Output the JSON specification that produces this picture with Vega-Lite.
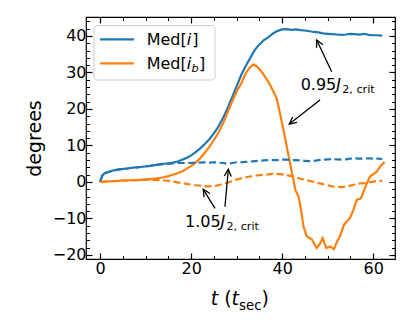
{
"$schema": "https://vega.github.io/schema/vega-lite/v6.json",
"width": 309, "height": 242,
"autosize": {"type": "none"},
"padding": {"left": 86, "top": 17, "right": 20, "bottom": 73},
"background": "white",
"config": {
 "view": {"stroke": "black", "strokeWidth": 1.2},
 "font": "DejaVu Sans",
 "axis": {"domain": false, "grid": false, "tickColor": "black", "tickWidth": 1.2, "labelFont": "DejaVu Sans", "labelFontSize": 16, "labelColor": "black", "labelOverlap": false, "titleFont": "DejaVu Sans", "titleFontSize": 19, "titleFontWeight": "normal", "titleColor": "black"}
},
"datasets": {
 "runs": [
  {"t":0,"deg":0,"series":"Med[i]","J2":"0.95"},{"t":0.5,"deg":1.8,"series":"Med[i]","J2":"0.95"},{"t":1,"deg":2.4,"series":"Med[i]","J2":"0.95"},{"t":2,"deg":2.8,"series":"Med[i]","J2":"0.95"},{"t":3,"deg":3.2,"series":"Med[i]","J2":"0.95"},{"t":4,"deg":3.4,"series":"Med[i]","J2":"0.95"},{"t":5,"deg":3.6,"series":"Med[i]","J2":"0.95"},{"t":6,"deg":3.7,"series":"Med[i]","J2":"0.95"},{"t":7,"deg":3.9,"series":"Med[i]","J2":"0.95"},{"t":8,"deg":4.0,"series":"Med[i]","J2":"0.95"},{"t":9,"deg":4.1,"series":"Med[i]","J2":"0.95"},{"t":10,"deg":4.3,"series":"Med[i]","J2":"0.95"},{"t":11,"deg":4.4,"series":"Med[i]","J2":"0.95"},{"t":12,"deg":4.6,"series":"Med[i]","J2":"0.95"},{"t":13,"deg":4.8,"series":"Med[i]","J2":"0.95"},{"t":14,"deg":5.0,"series":"Med[i]","J2":"0.95"},{"t":15,"deg":5.1,"series":"Med[i]","J2":"0.95"},{"t":16,"deg":5.3,"series":"Med[i]","J2":"0.95"},{"t":17,"deg":5.6,"series":"Med[i]","J2":"0.95"},{"t":18,"deg":6.1,"series":"Med[i]","J2":"0.95"},{"t":19,"deg":6.6,"series":"Med[i]","J2":"0.95"},{"t":20,"deg":7.3,"series":"Med[i]","J2":"0.95"},{"t":21,"deg":8.2,"series":"Med[i]","J2":"0.95"},{"t":22,"deg":9.2,"series":"Med[i]","J2":"0.95"},{"t":23,"deg":10.4,"series":"Med[i]","J2":"0.95"},{"t":24,"deg":11.7,"series":"Med[i]","J2":"0.95"},{"t":25,"deg":13.3,"series":"Med[i]","J2":"0.95"},{"t":26,"deg":15.2,"series":"Med[i]","J2":"0.95"},{"t":27,"deg":17.5,"series":"Med[i]","J2":"0.95"},{"t":28,"deg":20.2,"series":"Med[i]","J2":"0.95"},{"t":29,"deg":23.2,"series":"Med[i]","J2":"0.95"},{"t":30,"deg":26.2,"series":"Med[i]","J2":"0.95"},{"t":31,"deg":29.3,"series":"Med[i]","J2":"0.95"},{"t":32,"deg":31.8,"series":"Med[i]","J2":"0.95"},{"t":33,"deg":34.0,"series":"Med[i]","J2":"0.95"},{"t":34,"deg":36.2,"series":"Med[i]","J2":"0.95"},{"t":35,"deg":37.7,"series":"Med[i]","J2":"0.95"},{"t":36,"deg":38.9,"series":"Med[i]","J2":"0.95"},{"t":37,"deg":39.7,"series":"Med[i]","J2":"0.95"},{"t":38,"deg":40.7,"series":"Med[i]","J2":"0.95"},{"t":39,"deg":41.4,"series":"Med[i]","J2":"0.95"},{"t":40,"deg":41.8,"series":"Med[i]","J2":"0.95"},{"t":41,"deg":41.9,"series":"Med[i]","J2":"0.95"},{"t":42,"deg":41.7,"series":"Med[i]","J2":"0.95"},{"t":43,"deg":41.8,"series":"Med[i]","J2":"0.95"},{"t":44,"deg":41.6,"series":"Med[i]","J2":"0.95"},{"t":45,"deg":41.5,"series":"Med[i]","J2":"0.95"},{"t":46,"deg":41.3,"series":"Med[i]","J2":"0.95"},{"t":47,"deg":41.1,"series":"Med[i]","J2":"0.95"},{"t":48,"deg":41.0,"series":"Med[i]","J2":"0.95"},{"t":49,"deg":40.7,"series":"Med[i]","J2":"0.95"},{"t":50,"deg":40.6,"series":"Med[i]","J2":"0.95"},{"t":51,"deg":40.5,"series":"Med[i]","J2":"0.95"},{"t":52,"deg":40.4,"series":"Med[i]","J2":"0.95"},{"t":53,"deg":40.3,"series":"Med[i]","J2":"0.95"},{"t":54,"deg":40.4,"series":"Med[i]","J2":"0.95"},{"t":55,"deg":40.6,"series":"Med[i]","J2":"0.95"},{"t":56,"deg":40.5,"series":"Med[i]","J2":"0.95"},{"t":57,"deg":40.4,"series":"Med[i]","J2":"0.95"},{"t":58,"deg":40.6,"series":"Med[i]","J2":"0.95"},{"t":59,"deg":40.3,"series":"Med[i]","J2":"0.95"},{"t":60,"deg":40.2,"series":"Med[i]","J2":"0.95"},{"t":61,"deg":40.2,"series":"Med[i]","J2":"0.95"},{"t":62,"deg":40.1,"series":"Med[i]","J2":"0.95"},
  {"t":0,"deg":0,"series":"Med[i_b]","J2":"0.95"},{"t":1,"deg":0.1,"series":"Med[i_b]","J2":"0.95"},{"t":2,"deg":0.2,"series":"Med[i_b]","J2":"0.95"},{"t":3,"deg":0.2,"series":"Med[i_b]","J2":"0.95"},{"t":4,"deg":0.3,"series":"Med[i_b]","J2":"0.95"},{"t":5,"deg":0.4,"series":"Med[i_b]","J2":"0.95"},{"t":6,"deg":0.4,"series":"Med[i_b]","J2":"0.95"},{"t":7,"deg":0.5,"series":"Med[i_b]","J2":"0.95"},{"t":8,"deg":0.5,"series":"Med[i_b]","J2":"0.95"},{"t":9,"deg":0.6,"series":"Med[i_b]","J2":"0.95"},{"t":10,"deg":0.7,"series":"Med[i_b]","J2":"0.95"},{"t":11,"deg":0.8,"series":"Med[i_b]","J2":"0.95"},{"t":12,"deg":0.9,"series":"Med[i_b]","J2":"0.95"},{"t":13,"deg":1.1,"series":"Med[i_b]","J2":"0.95"},{"t":14,"deg":1.3,"series":"Med[i_b]","J2":"0.95"},{"t":15,"deg":1.6,"series":"Med[i_b]","J2":"0.95"},{"t":16,"deg":2.0,"series":"Med[i_b]","J2":"0.95"},{"t":17,"deg":2.4,"series":"Med[i_b]","J2":"0.95"},{"t":18,"deg":2.9,"series":"Med[i_b]","J2":"0.95"},{"t":19,"deg":3.6,"series":"Med[i_b]","J2":"0.95"},{"t":20,"deg":4.4,"series":"Med[i_b]","J2":"0.95"},{"t":21,"deg":5.3,"series":"Med[i_b]","J2":"0.95"},{"t":22,"deg":6.5,"series":"Med[i_b]","J2":"0.95"},{"t":23,"deg":8.0,"series":"Med[i_b]","J2":"0.95"},{"t":24,"deg":9.6,"series":"Med[i_b]","J2":"0.95"},{"t":25,"deg":11.5,"series":"Med[i_b]","J2":"0.95"},{"t":26,"deg":13.5,"series":"Med[i_b]","J2":"0.95"},{"t":27,"deg":16.0,"series":"Med[i_b]","J2":"0.95"},{"t":28,"deg":19.0,"series":"Med[i_b]","J2":"0.95"},{"t":29,"deg":22.0,"series":"Med[i_b]","J2":"0.95"},{"t":30,"deg":24.8,"series":"Med[i_b]","J2":"0.95"},{"t":31,"deg":27.0,"series":"Med[i_b]","J2":"0.95"},{"t":32,"deg":29.8,"series":"Med[i_b]","J2":"0.95"},{"t":33,"deg":31.5,"series":"Med[i_b]","J2":"0.95"},{"t":33.7,"deg":32.2,"series":"Med[i_b]","J2":"0.95"},{"t":34.5,"deg":31.6,"series":"Med[i_b]","J2":"0.95"},{"t":35.2,"deg":30.6,"series":"Med[i_b]","J2":"0.95"},{"t":36,"deg":29.3,"series":"Med[i_b]","J2":"0.95"},{"t":37,"deg":27.4,"series":"Med[i_b]","J2":"0.95"},{"t":38,"deg":25.0,"series":"Med[i_b]","J2":"0.95"},{"t":38.8,"deg":22.9,"series":"Med[i_b]","J2":"0.95"},{"t":39.5,"deg":19.0,"series":"Med[i_b]","J2":"0.95"},{"t":40.3,"deg":14.2,"series":"Med[i_b]","J2":"0.95"},{"t":41.3,"deg":7.9,"series":"Med[i_b]","J2":"0.95"},{"t":42,"deg":3.5,"series":"Med[i_b]","J2":"0.95"},{"t":42.5,"deg":0.5,"series":"Med[i_b]","J2":"0.95"},{"t":42.9,"deg":-2.2,"series":"Med[i_b]","J2":"0.95"},{"t":43.6,"deg":-4.0,"series":"Med[i_b]","J2":"0.95"},{"t":44.2,"deg":-8.0,"series":"Med[i_b]","J2":"0.95"},{"t":44.7,"deg":-12.2,"series":"Med[i_b]","J2":"0.95"},{"t":45.4,"deg":-14.9,"series":"Med[i_b]","J2":"0.95"},{"t":46.5,"deg":-15.7,"series":"Med[i_b]","J2":"0.95"},{"t":47.6,"deg":-18.1,"series":"Med[i_b]","J2":"0.95"},{"t":48.3,"deg":-17.0,"series":"Med[i_b]","J2":"0.95"},{"t":48.9,"deg":-15.4,"series":"Med[i_b]","J2":"0.95"},{"t":49.7,"deg":-18.1,"series":"Med[i_b]","J2":"0.95"},{"t":50.5,"deg":-17.7,"series":"Med[i_b]","J2":"0.95"},{"t":51.4,"deg":-18.4,"series":"Med[i_b]","J2":"0.95"},{"t":52,"deg":-16.5,"series":"Med[i_b]","J2":"0.95"},{"t":52.7,"deg":-14.9,"series":"Med[i_b]","J2":"0.95"},{"t":53.6,"deg":-11.7,"series":"Med[i_b]","J2":"0.95"},{"t":54.9,"deg":-9.9,"series":"Med[i_b]","J2":"0.95"},{"t":55.7,"deg":-7.5,"series":"Med[i_b]","J2":"0.95"},{"t":56.4,"deg":-4.9,"series":"Med[i_b]","J2":"0.95"},{"t":57.3,"deg":-4.5,"series":"Med[i_b]","J2":"0.95"},{"t":58.6,"deg":-0.4,"series":"Med[i_b]","J2":"0.95"},{"t":59.3,"deg":1.5,"series":"Med[i_b]","J2":"0.95"},{"t":60.8,"deg":2.8,"series":"Med[i_b]","J2":"0.95"},{"t":61.5,"deg":4.2,"series":"Med[i_b]","J2":"0.95"},{"t":62.5,"deg":5.5,"series":"Med[i_b]","J2":"0.95"},
  {"t":0,"deg":0,"series":"Med[i]","J2":"1.05"},{"t":0.5,"deg":1.8,"series":"Med[i]","J2":"1.05"},{"t":1,"deg":2.4,"series":"Med[i]","J2":"1.05"},{"t":2,"deg":2.8,"series":"Med[i]","J2":"1.05"},{"t":3,"deg":3.2,"series":"Med[i]","J2":"1.05"},{"t":4,"deg":3.4,"series":"Med[i]","J2":"1.05"},{"t":5,"deg":3.6,"series":"Med[i]","J2":"1.05"},{"t":6,"deg":3.7,"series":"Med[i]","J2":"1.05"},{"t":7,"deg":3.9,"series":"Med[i]","J2":"1.05"},{"t":8,"deg":4.0,"series":"Med[i]","J2":"1.05"},{"t":9,"deg":4.1,"series":"Med[i]","J2":"1.05"},{"t":10,"deg":4.3,"series":"Med[i]","J2":"1.05"},{"t":11,"deg":4.4,"series":"Med[i]","J2":"1.05"},{"t":12,"deg":4.6,"series":"Med[i]","J2":"1.05"},{"t":13,"deg":4.8,"series":"Med[i]","J2":"1.05"},{"t":14,"deg":4.9,"series":"Med[i]","J2":"1.05"},{"t":15,"deg":5.0,"series":"Med[i]","J2":"1.05"},{"t":16,"deg":5.1,"series":"Med[i]","J2":"1.05"},{"t":17,"deg":5.2,"series":"Med[i]","J2":"1.05"},{"t":18,"deg":5.2,"series":"Med[i]","J2":"1.05"},{"t":19,"deg":5.3,"series":"Med[i]","J2":"1.05"},{"t":20,"deg":5.2,"series":"Med[i]","J2":"1.05"},{"t":21,"deg":5.3,"series":"Med[i]","J2":"1.05"},{"t":22,"deg":5.3,"series":"Med[i]","J2":"1.05"},{"t":23,"deg":5.4,"series":"Med[i]","J2":"1.05"},{"t":24,"deg":5.3,"series":"Med[i]","J2":"1.05"},{"t":25,"deg":5.4,"series":"Med[i]","J2":"1.05"},{"t":26,"deg":5.3,"series":"Med[i]","J2":"1.05"},{"t":27,"deg":5.2,"series":"Med[i]","J2":"1.05"},{"t":28,"deg":5.0,"series":"Med[i]","J2":"1.05"},{"t":29,"deg":5.2,"series":"Med[i]","J2":"1.05"},{"t":30,"deg":5.4,"series":"Med[i]","J2":"1.05"},{"t":31,"deg":5.4,"series":"Med[i]","J2":"1.05"},{"t":32,"deg":5.5,"series":"Med[i]","J2":"1.05"},{"t":33,"deg":5.6,"series":"Med[i]","J2":"1.05"},{"t":34,"deg":5.7,"series":"Med[i]","J2":"1.05"},{"t":35,"deg":5.8,"series":"Med[i]","J2":"1.05"},{"t":36,"deg":5.9,"series":"Med[i]","J2":"1.05"},{"t":37,"deg":6.0,"series":"Med[i]","J2":"1.05"},{"t":38,"deg":6.0,"series":"Med[i]","J2":"1.05"},{"t":39,"deg":6.0,"series":"Med[i]","J2":"1.05"},{"t":40,"deg":6.1,"series":"Med[i]","J2":"1.05"},{"t":41,"deg":6.1,"series":"Med[i]","J2":"1.05"},{"t":42,"deg":6.0,"series":"Med[i]","J2":"1.05"},{"t":43,"deg":6.0,"series":"Med[i]","J2":"1.05"},{"t":44,"deg":5.9,"series":"Med[i]","J2":"1.05"},{"t":45,"deg":5.8,"series":"Med[i]","J2":"1.05"},{"t":46,"deg":5.7,"series":"Med[i]","J2":"1.05"},{"t":47,"deg":5.8,"series":"Med[i]","J2":"1.05"},{"t":48,"deg":6.0,"series":"Med[i]","J2":"1.05"},{"t":49,"deg":6.1,"series":"Med[i]","J2":"1.05"},{"t":50,"deg":6.2,"series":"Med[i]","J2":"1.05"},{"t":51,"deg":6.3,"series":"Med[i]","J2":"1.05"},{"t":52,"deg":6.2,"series":"Med[i]","J2":"1.05"},{"t":53,"deg":6.1,"series":"Med[i]","J2":"1.05"},{"t":54,"deg":6.2,"series":"Med[i]","J2":"1.05"},{"t":55,"deg":6.4,"series":"Med[i]","J2":"1.05"},{"t":56,"deg":6.5,"series":"Med[i]","J2":"1.05"},{"t":57,"deg":6.4,"series":"Med[i]","J2":"1.05"},{"t":58,"deg":6.4,"series":"Med[i]","J2":"1.05"},{"t":59,"deg":6.5,"series":"Med[i]","J2":"1.05"},{"t":60,"deg":6.4,"series":"Med[i]","J2":"1.05"},{"t":61,"deg":6.4,"series":"Med[i]","J2":"1.05"},{"t":62,"deg":6.3,"series":"Med[i]","J2":"1.05"},
  {"t":0,"deg":0,"series":"Med[i_b]","J2":"1.05"},{"t":1,"deg":0.1,"series":"Med[i_b]","J2":"1.05"},{"t":2,"deg":0.2,"series":"Med[i_b]","J2":"1.05"},{"t":3,"deg":0.2,"series":"Med[i_b]","J2":"1.05"},{"t":4,"deg":0.3,"series":"Med[i_b]","J2":"1.05"},{"t":5,"deg":0.4,"series":"Med[i_b]","J2":"1.05"},{"t":6,"deg":0.4,"series":"Med[i_b]","J2":"1.05"},{"t":7,"deg":0.5,"series":"Med[i_b]","J2":"1.05"},{"t":8,"deg":0.5,"series":"Med[i_b]","J2":"1.05"},{"t":9,"deg":0.6,"series":"Med[i_b]","J2":"1.05"},{"t":10,"deg":0.6,"series":"Med[i_b]","J2":"1.05"},{"t":11,"deg":0.6,"series":"Med[i_b]","J2":"1.05"},{"t":12,"deg":0.6,"series":"Med[i_b]","J2":"1.05"},{"t":13,"deg":0.5,"series":"Med[i_b]","J2":"1.05"},{"t":14,"deg":0.4,"series":"Med[i_b]","J2":"1.05"},{"t":15,"deg":0.3,"series":"Med[i_b]","J2":"1.05"},{"t":16,"deg":0.1,"series":"Med[i_b]","J2":"1.05"},{"t":17,"deg":-0.1,"series":"Med[i_b]","J2":"1.05"},{"t":18,"deg":-0.3,"series":"Med[i_b]","J2":"1.05"},{"t":19,"deg":-0.5,"series":"Med[i_b]","J2":"1.05"},{"t":20,"deg":-0.7,"series":"Med[i_b]","J2":"1.05"},{"t":21,"deg":-0.9,"series":"Med[i_b]","J2":"1.05"},{"t":22,"deg":-1.0,"series":"Med[i_b]","J2":"1.05"},{"t":23,"deg":-1.2,"series":"Med[i_b]","J2":"1.05"},{"t":24,"deg":-1.2,"series":"Med[i_b]","J2":"1.05"},{"t":25,"deg":-1.1,"series":"Med[i_b]","J2":"1.05"},{"t":26,"deg":-0.9,"series":"Med[i_b]","J2":"1.05"},{"t":27,"deg":-0.5,"series":"Med[i_b]","J2":"1.05"},{"t":28,"deg":-0.2,"series":"Med[i_b]","J2":"1.05"},{"t":29,"deg":0.2,"series":"Med[i_b]","J2":"1.05"},{"t":30,"deg":0.7,"series":"Med[i_b]","J2":"1.05"},{"t":31,"deg":1.0,"series":"Med[i_b]","J2":"1.05"},{"t":32,"deg":1.3,"series":"Med[i_b]","J2":"1.05"},{"t":33,"deg":1.5,"series":"Med[i_b]","J2":"1.05"},{"t":34,"deg":1.7,"series":"Med[i_b]","J2":"1.05"},{"t":35,"deg":1.9,"series":"Med[i_b]","J2":"1.05"},{"t":36,"deg":2.0,"series":"Med[i_b]","J2":"1.05"},{"t":37,"deg":2.1,"series":"Med[i_b]","J2":"1.05"},{"t":38,"deg":2.2,"series":"Med[i_b]","J2":"1.05"},{"t":39,"deg":2.2,"series":"Med[i_b]","J2":"1.05"},{"t":40,"deg":2.1,"series":"Med[i_b]","J2":"1.05"},{"t":41,"deg":1.9,"series":"Med[i_b]","J2":"1.05"},{"t":42,"deg":1.6,"series":"Med[i_b]","J2":"1.05"},{"t":43,"deg":1.3,"series":"Med[i_b]","J2":"1.05"},{"t":44,"deg":0.9,"series":"Med[i_b]","J2":"1.05"},{"t":45,"deg":0.6,"series":"Med[i_b]","J2":"1.05"},{"t":46,"deg":0.3,"series":"Med[i_b]","J2":"1.05"},{"t":47,"deg":0.0,"series":"Med[i_b]","J2":"1.05"},{"t":48,"deg":-0.3,"series":"Med[i_b]","J2":"1.05"},{"t":49,"deg":-0.6,"series":"Med[i_b]","J2":"1.05"},{"t":50,"deg":-0.9,"series":"Med[i_b]","J2":"1.05"},{"t":51,"deg":-1.2,"series":"Med[i_b]","J2":"1.05"},{"t":52,"deg":-1.3,"series":"Med[i_b]","J2":"1.05"},{"t":53,"deg":-1.4,"series":"Med[i_b]","J2":"1.05"},{"t":54,"deg":-1.3,"series":"Med[i_b]","J2":"1.05"},{"t":55,"deg":-1.0,"series":"Med[i_b]","J2":"1.05"},{"t":56,"deg":-0.7,"series":"Med[i_b]","J2":"1.05"},{"t":57,"deg":-0.4,"series":"Med[i_b]","J2":"1.05"},{"t":58,"deg":-0.3,"series":"Med[i_b]","J2":"1.05"},{"t":59,"deg":-0.1,"series":"Med[i_b]","J2":"1.05"},{"t":60,"deg":0.1,"series":"Med[i_b]","J2":"1.05"},{"t":61,"deg":0.3,"series":"Med[i_b]","J2":"1.05"},{"t":62,"deg":0.3,"series":"Med[i_b]","J2":"1.05"}
 ],
 "arrows": [
  {"t":50.89,"deg":30.21,"t2":47.59,"deg2":38.9},
  {"t":48.32,"deg":22.46,"t2":41.57,"deg2":15.88},
  {"t":25.25,"deg":-7.21,"t2":22.67,"deg2":-2.01},
  {"t":27.44,"deg":-6.77,"t2":28.17,"deg2":3.47}
 ]
},
"layer": [
 {"data": {"name": "runs"}, "transform": [{"filter": "datum.J2 == '0.95'"}],
  "mark": {"type": "line", "strokeWidth": 2.2},
  "encoding": {
   "x": {"field": "t", "type": "quantitative", "scale": {"domain": [-3.1, 64.8], "nice": false, "zero": false}, "axis": {"orient": "bottom", "values": [0,20,40,60], "tickSize": -6, "labelPadding": 7, "title": null}},
   "y": {"field": "deg", "type": "quantitative", "scale": {"domain": [-21.1, 45.2], "nice": false, "zero": false}, "axis": {"orient": "left", "values": [-20,-10,0,10,20,30,40], "tickSize": -6, "labelPadding": 6, "title": "degrees", "titlePadding": 8}},
   "color": {"field": "series", "type": "nominal", "scale": {"domain": ["Med[i]", "Med[i_b]"], "range": ["#1f77b4", "#ff7f0e"]}, "legend": null}
  }},
 {"data": {"name": "runs"}, "transform": [{"filter": "datum.J2 == '1.05'"}],
  "mark": {"type": "line", "strokeWidth": 2.2, "strokeDash": [7, 3.5]},
  "encoding": {
   "x": {"field": "t", "type": "quantitative", "scale": {"domain": [-3.1, 64.8], "nice": false, "zero": false}, "axis": {"orient": "top", "values": [0,20,40,60], "tickSize": -6, "labels": false, "title": null}},
   "y": {"field": "deg", "type": "quantitative", "scale": {"domain": [-21.1, 45.2], "nice": false, "zero": false}, "axis": {"orient": "right", "values": [-20,-10,0,10,20,30,40], "tickSize": -6, "labels": false, "title": null}},
   "color": {"field": "series", "type": "nominal", "scale": {"domain": ["Med[i]", "Med[i_b]"], "range": ["#1f77b4", "#ff7f0e"]}, "legend": null}
  }},
 {"data": {"name": "arrows"},
  "mark": {"type": "rule", "color": "black", "strokeWidth": 1.3},
  "encoding": {
   "x": {"field": "t", "type": "quantitative", "scale": {"domain": [-3.1, 64.8], "nice": false, "zero": false}, "axis": {"orient": "bottom", "values": [0,5,10,15,20,25,30,35,40,45,50,55,60], "tickSize": -3.5, "tickWidth": 1, "labels": false, "title": null}},
   "x2": {"field": "t2"},
   "y": {"field": "deg", "type": "quantitative", "scale": {"domain": [-21.1, 45.2], "nice": false, "zero": false}, "axis": {"orient": "left", "values": [-20,-18,-16,-14,-12,-10,-8,-6,-4,-2,0,2,4,6,8,10,12,14,16,18,20,22,24,26,28,30,32,34,36,38,40,42,44], "tickSize": -3.5, "tickWidth": 1, "labels": false, "title": null}},
   "y2": {"field": "deg2"}
  }},
 {"data": {"values": [{}]},
  "mark": {"type": "rect", "fill": "white", "fillOpacity": 0.8, "stroke": "#cccccc", "strokeWidth": 1, "cornerRadius": 3},
  "encoding": {
   "x": {"datum": -1.34, "type": "quantitative", "scale": {"domain": [-3.1, 64.8], "nice": false, "zero": false}, "axis": {"orient": "top", "values": [0,5,10,15,20,25,30,35,40,45,50,55,60], "tickSize": -3.5, "tickWidth": 1, "labels": false, "title": null}},
   "x2": {"datum": 25.25},
   "y": {"datum": 42.87, "type": "quantitative", "scale": {"domain": [-21.1, 45.2], "nice": false, "zero": false}, "axis": {"orient": "right", "values": [-20,-18,-16,-14,-12,-10,-8,-6,-4,-2,0,2,4,6,8,10,12,14,16,18,20,22,24,26,28,30,32,34,36,38,40,42,44], "tickSize": -3.5, "tickWidth": 1, "labels": false, "title": null}},
   "y2": {"datum": 27.94}
  }},
 {"data": {"values": [{}]}, "mark": {"type": "rule", "color": "#1f77b4", "strokeWidth": 2.2},
  "encoding": {"x": {"datum": 0, "type": "quantitative", "scale": {"domain": [-3.1, 64.8], "nice": false, "zero": false}, "axis": null}, "x2": {"datum": 7.45}, "y": {"datum": 39.09, "type": "quantitative", "scale": {"domain": [-21.1, 45.2], "nice": false, "zero": false}, "axis": null}}},
 {"data": {"values": [{}]}, "mark": {"type": "rule", "color": "#ff7f0e", "strokeWidth": 2.2},
  "encoding": {"x": {"datum": 0, "type": "quantitative", "scale": {"domain": [-3.1, 64.8], "nice": false, "zero": false}, "axis": null}, "x2": {"datum": 7.45}, "y": {"datum": 32.52, "type": "quantitative", "scale": {"domain": [-21.1, 45.2], "nice": false, "zero": false}, "axis": null}}},
 {"data": {"values": [{}]}, "mark": {"type": "text", "text": "Med[", "fontSize": 16, "align": "left", "baseline": "alphabetic", "color": "black"},
  "encoding": {"x": {"datum": 10.24, "type": "quantitative", "scale": {"domain": [-3.1, 64.8], "nice": false, "zero": false}, "axis": null}, "y": {"datum": 37.5, "type": "quantitative", "scale": {"domain": [-21.1, 45.2], "nice": false, "zero": false}, "axis": null}}},
 {"data": {"values": [{}]}, "mark": {"type": "text", "text": "i", "fontSize": 16, "fontStyle": "italic", "align": "left", "baseline": "alphabetic", "color": "black"},
  "encoding": {"x": {"datum": 19.04, "type": "quantitative", "scale": {"domain": [-3.1, 64.8], "nice": false, "zero": false}, "axis": null}, "y": {"datum": 37.5, "type": "quantitative", "scale": {"domain": [-21.1, 45.2], "nice": false, "zero": false}, "axis": null}}},
 {"data": {"values": [{}]}, "mark": {"type": "text", "text": "]", "fontSize": 16, "align": "left", "baseline": "alphabetic", "color": "black"},
  "encoding": {"x": {"datum": 20.24, "type": "quantitative", "scale": {"domain": [-3.1, 64.8], "nice": false, "zero": false}, "axis": null}, "y": {"datum": 37.5, "type": "quantitative", "scale": {"domain": [-21.1, 45.2], "nice": false, "zero": false}, "axis": null}}},
 {"data": {"values": [{}]}, "mark": {"type": "text", "text": "Med[", "fontSize": 16, "align": "left", "baseline": "alphabetic", "color": "black"},
  "encoding": {"x": {"datum": 10.24, "type": "quantitative", "scale": {"domain": [-3.1, 64.8], "nice": false, "zero": false}, "axis": null}, "y": {"datum": 30.93, "type": "quantitative", "scale": {"domain": [-21.1, 45.2], "nice": false, "zero": false}, "axis": null}}},
 {"data": {"values": [{}]}, "mark": {"type": "text", "text": "i", "fontSize": 16, "fontStyle": "italic", "align": "left", "baseline": "alphabetic", "color": "black"},
  "encoding": {"x": {"datum": 19.04, "type": "quantitative", "scale": {"domain": [-3.1, 64.8], "nice": false, "zero": false}, "axis": null}, "y": {"datum": 30.93, "type": "quantitative", "scale": {"domain": [-21.1, 45.2], "nice": false, "zero": false}, "axis": null}}},
 {"data": {"values": [{}]}, "mark": {"type": "text", "text": "b", "fontSize": 11.2, "fontStyle": "italic", "align": "left", "baseline": "alphabetic", "color": "black"},
  "encoding": {"x": {"datum": 20.08, "type": "quantitative", "scale": {"domain": [-3.1, 64.8], "nice": false, "zero": false}, "axis": null}, "y": {"datum": 30.1, "type": "quantitative", "scale": {"domain": [-21.1, 45.2], "nice": false, "zero": false}, "axis": null}}},
 {"data": {"values": [{}]}, "mark": {"type": "text", "text": "]", "fontSize": 16, "align": "left", "baseline": "alphabetic", "color": "black"},
  "encoding": {"x": {"datum": 21.73, "type": "quantitative", "scale": {"domain": [-3.1, 64.8], "nice": false, "zero": false}, "axis": null}, "y": {"datum": 30.93, "type": "quantitative", "scale": {"domain": [-21.1, 45.2], "nice": false, "zero": false}, "axis": null}}},
 {"data": {"values": [{}]}, "mark": {"type": "text", "text": "0.95", "fontSize": 16, "align": "left", "baseline": "alphabetic", "color": "black"},
  "encoding": {"x": {"datum": 44.07, "type": "quantitative", "scale": {"domain": [-3.1, 64.8], "nice": false, "zero": false}, "axis": null}, "y": {"datum": 25.2, "type": "quantitative", "scale": {"domain": [-21.1, 45.2], "nice": false, "zero": false}, "axis": null}}},
 {"data": {"values": [{}]}, "mark": {"type": "text", "text": "J", "fontSize": 16, "fontStyle": "italic", "align": "left", "baseline": "alphabetic", "color": "black"},
  "encoding": {"x": {"datum": 51.9, "type": "quantitative", "scale": {"domain": [-3.1, 64.8], "nice": false, "zero": false}, "axis": null}, "y": {"datum": 25.2, "type": "quantitative", "scale": {"domain": [-21.1, 45.2], "nice": false, "zero": false}, "axis": null}}},
 {"data": {"values": [{}]}, "mark": {"type": "text", "text": "2, crit", "fontSize": 11.2, "align": "left", "baseline": "alphabetic", "color": "black"},
  "encoding": {"x": {"datum": 53.2, "type": "quantitative", "scale": {"domain": [-3.1, 64.8], "nice": false, "zero": false}, "axis": null}, "y": {"datum": 24.38, "type": "quantitative", "scale": {"domain": [-21.1, 45.2], "nice": false, "zero": false}, "axis": null}}},
 {"data": {"values": [{}]}, "mark": {"type": "text", "text": "1.05", "fontSize": 16, "align": "left", "baseline": "alphabetic", "color": "black"},
  "encoding": {"x": {"datum": 18.65, "type": "quantitative", "scale": {"domain": [-3.1, 64.8], "nice": false, "zero": false}, "axis": null}, "y": {"datum": -12.25, "type": "quantitative", "scale": {"domain": [-21.1, 45.2], "nice": false, "zero": false}, "axis": null}}},
 {"data": {"values": [{}]}, "mark": {"type": "text", "text": "J", "fontSize": 16, "fontStyle": "italic", "align": "left", "baseline": "alphabetic", "color": "black"},
  "encoding": {"x": {"datum": 26.47, "type": "quantitative", "scale": {"domain": [-3.1, 64.8], "nice": false, "zero": false}, "axis": null}, "y": {"datum": -12.25, "type": "quantitative", "scale": {"domain": [-21.1, 45.2], "nice": false, "zero": false}, "axis": null}}},
 {"data": {"values": [{}]}, "mark": {"type": "text", "text": "2, crit", "fontSize": 11.2, "align": "left", "baseline": "alphabetic", "color": "black"},
  "encoding": {"x": {"datum": 27.77, "type": "quantitative", "scale": {"domain": [-3.1, 64.8], "nice": false, "zero": false}, "axis": null}, "y": {"datum": -13.13, "type": "quantitative", "scale": {"domain": [-21.1, 45.2], "nice": false, "zero": false}, "axis": null}}},
 {"data": {"values": [{}]}, "mark": {"type": "text", "text": "t", "fontSize": 19, "fontStyle": "italic", "align": "left", "baseline": "alphabetic", "color": "black"},
  "encoding": {"x": {"datum": 24.3, "type": "quantitative", "scale": {"domain": [-3.1, 64.8], "nice": false, "zero": false}, "axis": null}, "y": {"datum": -33.7, "type": "quantitative", "scale": {"domain": [-21.1, 45.2], "nice": false, "zero": false}, "axis": null}}},
 {"data": {"values": [{}]}, "mark": {"type": "text", "text": "(", "fontSize": 19, "align": "left", "baseline": "alphabetic", "color": "black"},
  "encoding": {"x": {"datum": 27.27, "type": "quantitative", "scale": {"domain": [-3.1, 64.8], "nice": false, "zero": false}, "axis": null}, "y": {"datum": -33.7, "type": "quantitative", "scale": {"domain": [-21.1, 45.2], "nice": false, "zero": false}, "axis": null}}},
 {"data": {"values": [{}]}, "mark": {"type": "text", "text": "t", "fontSize": 19, "fontStyle": "italic", "align": "left", "baseline": "alphabetic", "color": "black"},
  "encoding": {"x": {"datum": 28.89, "type": "quantitative", "scale": {"domain": [-3.1, 64.8], "nice": false, "zero": false}, "axis": null}, "y": {"datum": -33.7, "type": "quantitative", "scale": {"domain": [-21.1, 45.2], "nice": false, "zero": false}, "axis": null}}},
 {"data": {"values": [{}]}, "mark": {"type": "text", "text": "sec", "fontSize": 13.3, "align": "left", "baseline": "alphabetic", "color": "black"},
  "encoding": {"x": {"datum": 30.53, "type": "quantitative", "scale": {"domain": [-3.1, 64.8], "nice": false, "zero": false}, "axis": null}, "y": {"datum": -35.0, "type": "quantitative", "scale": {"domain": [-21.1, 45.2], "nice": false, "zero": false}, "axis": null}}},
 {"data": {"values": [{}]}, "mark": {"type": "text", "text": ")", "fontSize": 19, "align": "left", "baseline": "alphabetic", "color": "black"},
  "encoding": {"x": {"datum": 35.46, "type": "quantitative", "scale": {"domain": [-3.1, 64.8], "nice": false, "zero": false}, "axis": null}, "y": {"datum": -33.7, "type": "quantitative", "scale": {"domain": [-21.1, 45.2], "nice": false, "zero": false}, "axis": null}}},
 {"data": {"values": [{}]}, "mark": {"type": "point", "shape": "M-0.5,1L0,0L0.5,1", "size": 196, "filled": false, "stroke": "black", "strokeWidth": 1.3, "opacity": 1, "angle": -25.3},
  "encoding": {"x": {"datum": 47.59, "type": "quantitative", "scale": {"domain": [-3.1, 64.8], "nice": false, "zero": false}, "axis": null}, "y": {"datum": 38.9, "type": "quantitative", "scale": {"domain": [-21.1, 45.2], "nice": false, "zero": false}, "axis": null}}},
 {"data": {"values": [{}]}, "mark": {"type": "point", "shape": "M-0.5,1L0,0L0.5,1", "size": 196, "filled": false, "stroke": "black", "strokeWidth": 1.3, "opacity": 1, "angle": -128},
  "encoding": {"x": {"datum": 41.57, "type": "quantitative", "scale": {"domain": [-3.1, 64.8], "nice": false, "zero": false}, "axis": null}, "y": {"datum": 15.88, "type": "quantitative", "scale": {"domain": [-21.1, 45.2], "nice": false, "zero": false}, "axis": null}}},
 {"data": {"values": [{}]}, "mark": {"type": "point", "shape": "M-0.5,1L0,0L0.5,1", "size": 196, "filled": false, "stroke": "black", "strokeWidth": 1.3, "opacity": 1, "angle": -31.6},
  "encoding": {"x": {"datum": 22.67, "type": "quantitative", "scale": {"domain": [-3.1, 64.8], "nice": false, "zero": false}, "axis": null}, "y": {"datum": -2.01, "type": "quantitative", "scale": {"domain": [-21.1, 45.2], "nice": false, "zero": false}, "axis": null}}},
 {"data": {"values": [{}]}, "mark": {"type": "point", "shape": "M-0.5,1L0,0L0.5,1", "size": 196, "filled": false, "stroke": "black", "strokeWidth": 1.3, "opacity": 1, "angle": 5},
  "encoding": {"x": {"datum": 28.17, "type": "quantitative", "scale": {"domain": [-3.1, 64.8], "nice": false, "zero": false}, "axis": null}, "y": {"datum": 3.47, "type": "quantitative", "scale": {"domain": [-21.1, 45.2], "nice": false, "zero": false}, "axis": null}}}
],
"resolve": {"axis": {"x": "independent", "y": "independent"}}
}
